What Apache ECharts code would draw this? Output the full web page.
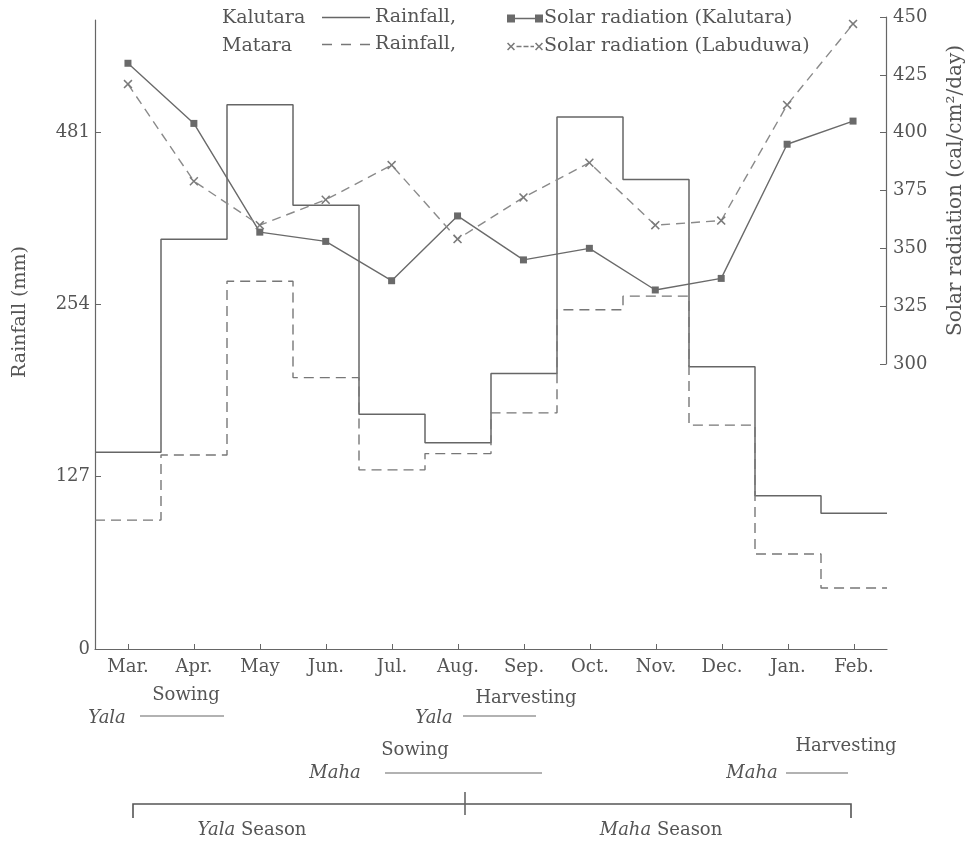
<!DOCTYPE html>
<html><head><meta charset="utf-8">
<script src="https://cdn.jsdelivr.net/npm/echarts@6/dist/echarts.min.js"></script>
<style>html,body{margin:0;padding:0;background:#fff}#c{width:974px;height:843px}</style>
</head><body><div id="c"></div>
<script>
const months = ['Mar.','Apr.','May','Jun.','Jul.','Aug.','Sep.','Oct.','Nov.','Dec.','Jan.','Feb.'];
const kalutaraRain = [145, 302, 401, 327, 173, 152, 203, 392, 346, 208, 113, 100];
const mataraRain = [95, 143, 271, 200, 132, 144, 174, 250, 260, 165, 70, 45];
const kalutaraSolar = [430, 404, 357, 353, 336, 364, 345, 350, 332, 337, 395, 405];
const labuduwaSolar = [421, 379, 360, 371, 386, 354, 372, 387, 360, 362, 412, 447];
const rainTicks = [0, 127, 254, 381];
const rainTickLabels = ['0', '127', '254', '481'];
const solarMin = 300, solarMax = 450, solarStep = 25;

const FONT = '"DejaVu Serif", "Liberation Serif", serif';
const TXT = '#555';
const LINE = '#666';

const stepData = arr => arr.map((v, i) => [i, v]).concat([[arr.length, arr[arr.length - 1]]]);
const pointData = arr => arr.map((v, i) => [i + 0.5, v]);
const monthCenters = months.map((m, i) => i + 0.5);
const X_ICON = 'path://M0,1.2 L1.2,0 L5,3.8 L8.8,0 L10,1.2 L6.2,5 L10,8.8 L8.8,10 L5,6.2 L1.2,10 L0,8.8 L3.8,5 Z';

// legend glyphs
const DOTS = (w, h) => ` M0,0h0.01v0.01h-0.01z M${w - 0.01},${h - 0.01}h0.01v0.01h-0.01z`;
const solidIcon = 'path://M0,6.3h48v1.4h-48z' + DOTS(48, 14);
const dashedIcon = 'path://M0,6.3h10v1.4h-10z M19,6.3h10v1.4h-10z M38,6.3h10v1.4h-10z' + DOTS(48, 14);
const sq = x => ` M${x},3.5h8v8h-8z`;
const xs = (ox, oy, s) => {
  const p = [[0,0.14],[0.14,0],[0.5,0.36],[0.86,0],[1,0.14],[0.64,0.5],[1,0.86],[0.86,1],[0.5,0.64],[0.14,1],[0,0.86],[0.36,0.5]];
  return ' M' + p.map(([a, b]) => `${ox + a * s},${oy + b * s}`).join(' L') + ' Z';
};
const kalIcon = 'path://' + sq(0) + ' M8,6.8h20v1.4h-20z' + sq(28) + DOTS(36, 15);
const labIcon = 'path://' + xs(0, 3.5, 8) + ' M9.5,6.8h5v1.4h-5z M16.5,6.8h5v1.4h-5z M23.5,6.8h3.5v1.4h-3.5z' + xs(28, 3.5, 8) + DOTS(36, 15);

const chart = echarts.init(document.getElementById('c'), null, {renderer: 'canvas'});
const txt = (text, x, y, extra) => ({
  type: 'text', x: x, y: y,
  style: Object.assign({text: text, fontFamily: FONT, fontSize: 18, fill: TXT, align: 'center', verticalAlign: 'middle'}, extra || {})
});
const seg = (x1, y1, x2, y2, w) => ({type: 'line', shape: {x1, y1, x2, y2}, style: {stroke: LINE, lineWidth: w || 1.2}});

const rainfallName = txt('Rainfall (mm)', 20, 312, {fontSize: 19});
rainfallName.rotation = Math.PI / 2;

const option = {
  animation: false,
  backgroundColor: '#fff',
  grid: [
    {left: 95, right: 87, top: 20, bottom: 194},
    {left: 95, right: 87, top: 17, height: 347}
  ],
  legend: [
    {left: 322, top: 8, orient: 'vertical', itemWidth: 48, itemHeight: 14, itemGap: 8, padding: 0,
     data: [{name: 'Kalutara Rainfall', icon: solidIcon}, {name: 'Matara Rainfall', icon: dashedIcon}],
     formatter: () => 'Rainfall,',
     textStyle: {fontFamily: FONT, fontSize: 19, color: TXT}},
    {left: 507, top: 9, orient: 'vertical', itemWidth: 36, itemHeight: 15, itemGap: 9, padding: 0,
     data: [{name: 'Solar radiation (Kalutara)', icon: kalIcon}, {name: 'Solar radiation (Labuduwa)', icon: labIcon}],
     textStyle: {fontFamily: FONT, fontSize: 19, color: TXT, padding: [0, 0, 0, -4]}}
  ],
  xAxis: [
    {gridIndex: 0, type: 'value', min: 0, max: 12,
     axisLine: {lineStyle: {color: LINE, width: 1.2}},
     axisTick: {customValues: monthCenters, inside: true, length: 5, lineStyle: {color: LINE}},
     axisLabel: {customValues: monthCenters, formatter: v => months[Math.round(v - 0.5)],
                 fontFamily: FONT, fontSize: 18, color: TXT, margin: 9},
     splitLine: {show: false}},
    {gridIndex: 1, type: 'value', min: 0, max: 12, show: false}
  ],
  yAxis: [
    {gridIndex: 0, type: 'value', min: 0, max: 463.5,
     axisLine: {show: true, lineStyle: {color: LINE, width: 1.2}},
     axisTick: {show: true, customValues: rainTicks, inside: true, length: 6, lineStyle: {color: LINE}},
     axisLabel: {customValues: rainTicks, formatter: v => rainTickLabels[rainTicks.indexOf(v)],
                 fontFamily: FONT, fontSize: 18, color: TXT, margin: 5},
     splitLine: {show: false}},
    {gridIndex: 1, type: 'value', position: 'right', min: solarMin, max: solarMax, interval: solarStep,
     axisLine: {show: true, onZero: false, lineStyle: {color: LINE, width: 1.2}},
     axisTick: {show: true, inside: true, length: 6, lineStyle: {color: LINE}},
     axisLabel: {fontFamily: FONT, fontSize: 18, color: TXT, margin: 7},
     splitLine: {show: false},
     name: 'Solar radiation (cal/cm²/day)', nameLocation: 'middle', nameGap: 60, nameRotate: 90,
     nameTextStyle: {fontFamily: FONT, fontSize: 20, color: TXT}}
  ],
  series: [
    {name: 'Kalutara Rainfall', type: 'line', xAxisIndex: 0, yAxisIndex: 0, step: 'end', symbol: 'none',
     data: stepData(kalutaraRain), color: '#666', lineStyle: {color: '#666', width: 1.5}},
    {name: 'Matara Rainfall', type: 'line', xAxisIndex: 0, yAxisIndex: 0, step: 'end', symbol: 'none',
     data: stepData(mataraRain), color: '#777', lineStyle: {color: '#777', width: 1.4, type: [10, 6]}},
    {name: 'Solar radiation (Kalutara)', type: 'line', xAxisIndex: 1, yAxisIndex: 1, symbol: 'rect', symbolSize: 7,
     data: pointData(kalutaraSolar), color: '#6a6a6a', itemStyle: {color: '#6a6a6a'},
     lineStyle: {color: '#6a6a6a', width: 1.4}},
    {name: 'Solar radiation (Labuduwa)', type: 'line', xAxisIndex: 1, yAxisIndex: 1, symbol: X_ICON, symbolSize: 9,
     data: pointData(labuduwaSolar), color: '#7a7a7a', itemStyle: {color: '#7a7a7a'},
     lineStyle: {color: '#8a8a8a', width: 1.4, type: [9, 6]}}
  ],
  graphic: [
    txt('Kalutara', 222, 18, {align: 'left', fontSize: 19}),
    txt('Matara', 222, 46, {align: 'left', fontSize: 19}),
    rainfallName,
    txt('Sowing', 186, 695),
    txt('Yala', 107, 718, {fontStyle: 'italic'}),
    seg(140, 716, 224, 716),
    txt('Harvesting', 526, 698),
    txt('Yala', 434, 718, {fontStyle: 'italic'}),
    seg(463, 716, 536, 716),
    txt('Sowing', 415, 750),
    txt('Maha', 335, 773, {fontStyle: 'italic'}),
    seg(385, 773, 542, 773),
    txt('Harvesting', 846, 746),
    txt('Maha', 752, 773, {fontStyle: 'italic'}),
    seg(786, 773, 848, 773),
    {type: 'polyline', shape: {points: [[133, 818], [133, 804], [851, 804], [851, 818]]}, style: {stroke: '#555', lineWidth: 1.6, fill: null}},
    seg(465, 792, 465, 815, 1.6),
    {type: 'text', x: 252, y: 830, style: {text: '{i|Yala} Season', fontFamily: FONT, fontSize: 18, fill: TXT, align: 'center', verticalAlign: 'middle',
      rich: {i: {fontStyle: 'italic', fontFamily: FONT, fontSize: 18, fill: TXT}}}},
    {type: 'text', x: 661, y: 830, style: {text: '{i|Maha} Season', fontFamily: FONT, fontSize: 18, fill: TXT, align: 'center', verticalAlign: 'middle',
      rich: {i: {fontStyle: 'italic', fontFamily: FONT, fontSize: 18, fill: TXT}}}}
  ]
};
chart.setOption(option);
</script></body></html>
